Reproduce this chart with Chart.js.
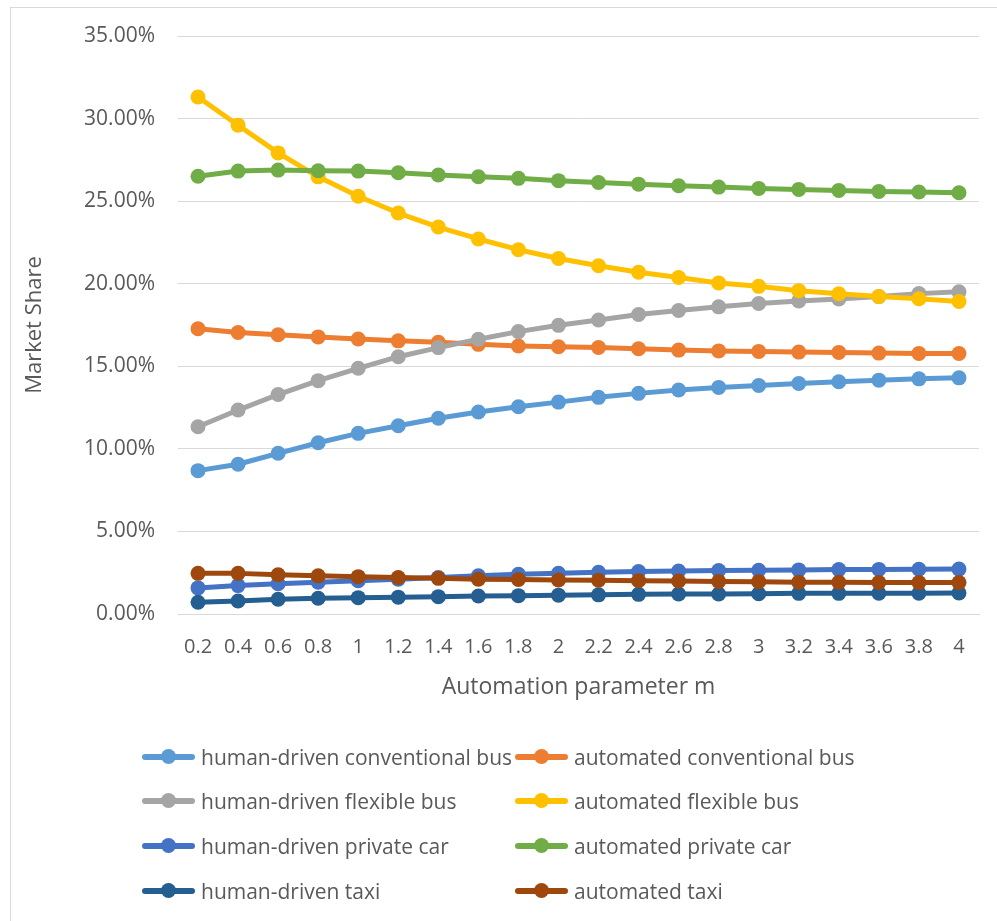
<!DOCTYPE html>
<html>
<head>
<meta charset="utf-8">
<script src="https://cdn.jsdelivr.net/npm/chart.js@4.4.1/dist/chart.umd.min.js"></script>
<style>
  html, body { margin: 0; padding: 0; background: #ffffff; }
  #wrap { position: relative; width: 997px; height: 921px; overflow: hidden; }
  #chart { position: absolute; left: 0; top: 0; }
  #legend { position: absolute; left: 0; top: 0; width: 997px; height: 921px; pointer-events: none;
            font-family: "Open Sans", sans-serif; font-size: 21px; color: #595959; }
  .item { position: absolute; height: 30px; display: flex; align-items: center; white-space: nowrap; }
  .mark { position: relative; width: 53px; height: 30px; margin-right: 6px; }
  .mark .ln { position: absolute; left: 0; right: 0; top: 12px; height: 6px; border-radius: 3px; }
  .mark .dot { position: absolute; left: 19px; top: 7px; width: 15px; height: 15px; border-radius: 50%; }
</style>
</head>
<body>
<div id="wrap">
  <canvas id="chart" width="997" height="921"></canvas>
  <div id="legend"></div>
</div>
<script>
// Automation parameter m
const categories = ['0.2','0.4','0.6','0.8','1','1.2','1.4','1.6','1.8','2',
                    '2.2','2.4','2.6','2.8','3','3.2','3.4','3.6','3.8','4'];

// Market share of each mode, in percent
const humanConventionalBus = [8.68, 9.07, 9.73, 10.37, 10.94, 11.40, 11.85, 12.23, 12.55, 12.83,
                              13.12, 13.36, 13.56, 13.72, 13.84, 13.96, 14.06, 14.16, 14.24, 14.30];
const automatedConventionalBus = [17.27, 17.05, 16.91, 16.78, 16.65, 16.54, 16.45, 16.33, 16.23, 16.18,
                                  16.14, 16.06, 15.98, 15.93, 15.90, 15.86, 15.84, 15.80, 15.78, 15.77];
const humanFlexibleBus = [11.34, 12.35, 13.29, 14.13, 14.88, 15.58, 16.13, 16.64, 17.10, 17.48,
                          17.80, 18.14, 18.38, 18.60, 18.80, 18.96, 19.08, 19.22, 19.40, 19.51];
const automatedFlexibleBus = [31.31, 29.60, 27.92, 26.47, 25.30, 24.28, 23.43, 22.71, 22.06, 21.53,
                              21.09, 20.69, 20.38, 20.04, 19.84, 19.58, 19.39, 19.23, 19.09, 18.93];
const humanPrivateCar = [1.58, 1.72, 1.83, 1.93, 2.02, 2.10, 2.21, 2.32, 2.40, 2.47,
                         2.53, 2.57, 2.60, 2.63, 2.65, 2.67, 2.69, 2.70, 2.71, 2.72];
const automatedPrivateCar = [26.51, 26.82, 26.88, 26.84, 26.82, 26.72, 26.58, 26.48, 26.38, 26.24,
                             26.13, 26.03, 25.93, 25.85, 25.77, 25.71, 25.65, 25.59, 25.55, 25.51];
const humanTaxi = [0.71, 0.79, 0.89, 0.95, 0.99, 1.02, 1.05, 1.09, 1.11, 1.14,
                   1.16, 1.19, 1.21, 1.21, 1.23, 1.25, 1.25, 1.26, 1.26, 1.27];
const automatedTaxi = [2.46, 2.46, 2.38, 2.31, 2.26, 2.21, 2.16, 2.11, 2.09, 2.06,
                       2.04, 2.02, 2.00, 1.97, 1.96, 1.93, 1.92, 1.91, 1.90, 1.90];

const seriesLabels = ['human-driven conventional bus', 'automated conventional bus',
                      'human-driven flexible bus', 'automated flexible bus',
                      'human-driven private car', 'automated private car',
                      'human-driven taxi', 'automated taxi'];
const seriesValues = [humanConventionalBus, automatedConventionalBus, humanFlexibleBus, automatedFlexibleBus,
                      humanPrivateCar, automatedPrivateCar, humanTaxi, automatedTaxi];
const seriesColors = ['#5B9BD5', '#ED7D31', '#A5A5A5', '#FFC000', '#4472C4', '#70AD47', '#255E91', '#9E480E'];

// y-axis ticks
const yMin = 0, yMax = 35, yStep = 5;

const FONT = '"Open Sans", sans-serif';
const TEXT = '#595959';
const GRID = '#D9D9D9';

const datasets = seriesLabels.map((label, i) => ({
  label,
  data: seriesValues[i],
  borderColor: seriesColors[i],
  backgroundColor: seriesColors[i],
  borderWidth: 5,
  borderCapStyle: 'round',
  borderJoinStyle: 'round',
  pointRadius: 7.5,
  pointHoverRadius: 7.5,
  pointBorderWidth: 0,
  pointBackgroundColor: seriesColors[i],
  tension: 0,
  order: seriesLabels.length - i   // later series paint above earlier ones
}));

// thin outer frame of the chart
const framePlugin = {
  id: 'frame',
  beforeDraw(chart) {
    const ctx = chart.ctx;
    ctx.save();
    ctx.fillStyle = '#ffffff';
    ctx.fillRect(0, 0, chart.width, chart.height);
    ctx.strokeStyle = GRID;
    ctx.lineWidth = 1;
    ctx.strokeRect(10.5, 7.5, 1100, 1100);
    ctx.restore();
  }
};

// two-column legend below the plot
const legendPlugin = {
  id: 'gridLegend',
  afterUpdate(chart) {
    const box = document.getElementById('legend');
    box.innerHTML = '';
    const colX = [142, 515];
    const rowY = [757, 801, 846, 891];
    chart.data.datasets.forEach((ds, i) => {
      const item = document.createElement('div');
      item.className = 'item';
      item.style.left = colX[i % 2] + 'px';
      item.style.top = (rowY[Math.floor(i / 2)] - 15) + 'px';
      const mark = document.createElement('div');
      mark.className = 'mark';
      const ln = document.createElement('div');
      ln.className = 'ln';
      ln.style.background = ds.borderColor;
      const dot = document.createElement('div');
      dot.className = 'dot';
      dot.style.background = ds.borderColor;
      mark.appendChild(ln);
      mark.appendChild(dot);
      const txt = document.createElement('span');
      txt.textContent = ds.label;
      item.appendChild(mark);
      item.appendChild(txt);
      box.appendChild(item);
    });
  }
};

new Chart(document.getElementById('chart'), {
  type: 'line',
  data: { labels: categories, datasets },
  plugins: [framePlugin, legendPlugin],
  options: {
    responsive: false,
    animation: false,
    layout: { padding: { top: 36, right: 18, bottom: 212, left: 0 } },
    plugins: {
      legend: { display: false },
      tooltip: { enabled: false }
    },
    scales: {
      x: {
        offset: true,
        grid: { display: false, drawTicks: false },
        border: { display: true, color: GRID, width: 1 },
        ticks: { color: TEXT, font: { family: FONT, size: 20 }, padding: 21, maxRotation: 0, autoSkip: false },
        title: { display: true, text: 'Automation parameter m', color: TEXT,
                 font: { family: FONT, size: 23 }, padding: { top: 0, bottom: 8 } },
        afterFit(scale) { scale.height = 95; }
      },
      y: {
        min: yMin, max: yMax,
        grid: { color: GRID, lineWidth: 1, drawTicks: false },
        border: { display: false },
        ticks: { stepSize: yStep, color: TEXT, font: { family: FONT, size: 21 }, padding: 23,
                 callback: v => v.toFixed(2) + '%' },
        title: { display: true, text: 'Market Share', color: TEXT,
                 font: { family: FONT, size: 22 }, padding: { top: 22, bottom: 0 } },
        afterFit(scale) { scale.width = 178; }
      }
    }
  }
});
</script>
</body>
</html>
